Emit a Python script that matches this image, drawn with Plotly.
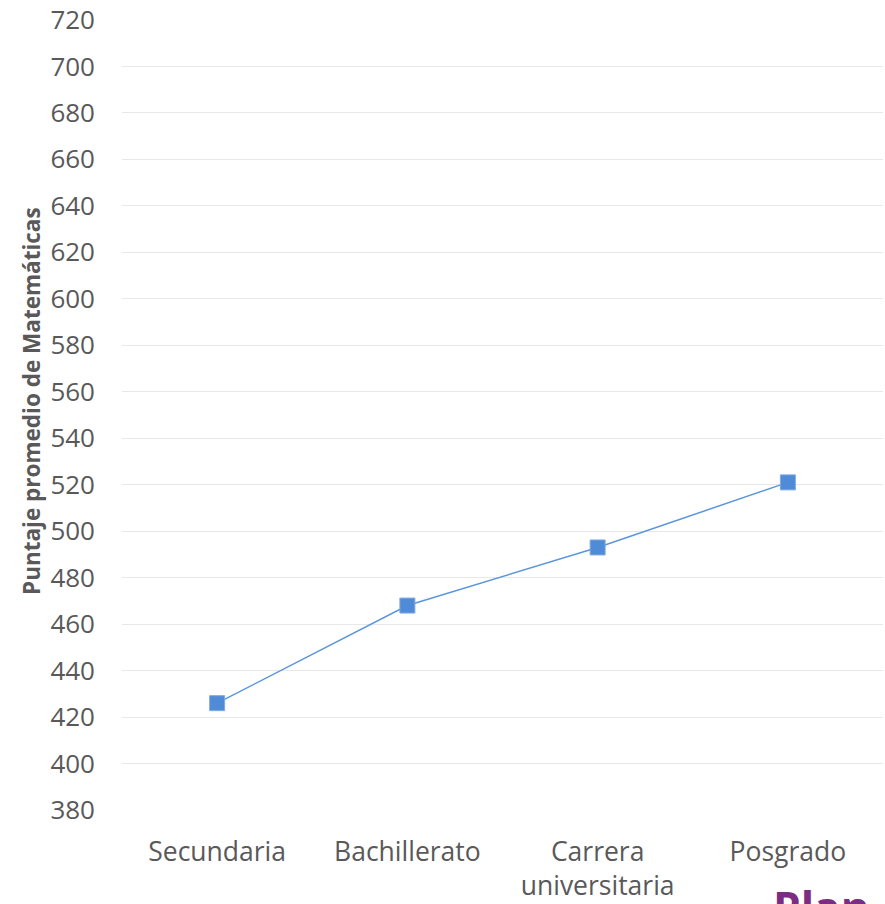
import plotly.graph_objects as go

categories = ["Secundaria", "Bachillerato", "Carrera<br>universitaria", "Posgrado"]
scores = [426, 468, 493, 521]
y_ticks = list(range(380, 721, 20))
y_title = "Puntaje promedio de Matemáticas"

FONT = "Open Sans"
TEXT = "#595959"

fig = go.Figure()
fig.add_trace(go.Scatter(
    x=list(range(len(categories))),
    y=scores,
    mode="lines+markers",
    line=dict(color="#5B95DB", width=1.5),
    marker=dict(symbol="square", size=15, color="#4F8BD6",
                line=dict(color="#7FAAE3", width=1)),
    showlegend=False,
))

fig.update_layout(
    width=885, height=904,
    margin=dict(l=122, r=2, t=19, b=93, autoexpand=False),
    paper_bgcolor="white", plot_bgcolor="white",
    font=dict(family=FONT, color=TEXT, size=26),
    xaxis=dict(
        range=[-0.5, 3.5],
        tickmode="array",
        tickvals=list(range(len(categories))),
        ticktext=categories,
        showgrid=False, zeroline=False, showline=False,
        ticks="", ticklabelstandoff=22, automargin=False,
        tickfont=dict(family=FONT, size=26.5, color=TEXT),
    ),
    yaxis=dict(
        range=[379.6, 720.4],
        tickmode="array",
        tickvals=y_ticks,
        showgrid=True, gridcolor="#E8E8E8", gridwidth=1,
        zeroline=False, showline=False,
        ticks="", ticklabelstandoff=26, automargin=False,
        tickfont=dict(family=FONT, size=26, color=TEXT),
    ),
)

fig.add_annotation(
    xref="paper", yref="paper",
    x=0, y=0.5177, xanchor="center", yanchor="middle",
    xshift=-90, textangle=-90,
    text=f"<b>{y_title}</b>", showarrow=False,
    font=dict(family=FONT, size=22.5, color=TEXT),
)

fig.add_annotation(
    xref="paper", yref="paper",
    x=0.853, y=-0.081, xanchor="left", yanchor="top",
    text="<b>Plan</b>", showarrow=False,
    font=dict(family=FONT, size=44, color="#7B2C83"),
)

fig.write_html("out.html", config={"displayModeBar": False},
               post_script="document.body.style.margin='0';")
